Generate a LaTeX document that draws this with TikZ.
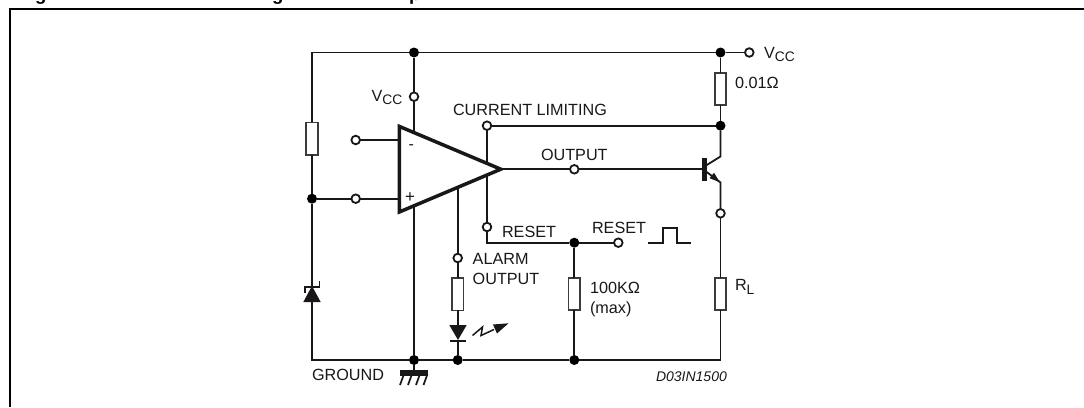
\documentclass[tikz,border=0pt]{standalone}
\usepackage{fontspec}
\setmainfont{Liberation Sans}
\usetikzlibrary{shapes.geometric,calc}
\definecolor{ink}{HTML}{1A1718}
\newcommand{\lblfont}{\fontsize{16.2}{19}\selectfont}
\newcommand{\subtxt}[1]{\raisebox{-3.6pt}{\fontsize{13.8}{14}\selectfont #1}}
\tikzset{
  wire/.style={draw=ink,line width=1.8pt},
  term/.style={circle,draw=ink,fill=white,line width=1.8pt,minimum size=8.6pt,inner sep=0pt,outer sep=0pt},
  jn/.style={circle,fill=black,minimum size=10pt,inner sep=0pt,outer sep=0pt},
  resv/.style={rectangle,draw=ink!85,fill=white,line width=1.7pt,minimum width=11.5pt,minimum height=32.5pt,inner sep=0pt,outer sep=0pt},
  lbl/.style={anchor=base west,inner sep=0pt,outer sep=0pt,text=ink,font=\lblfont},
  amp/.style={isosceles triangle,isosceles triangle stretches,minimum width=85.6pt,minimum height=101.5pt,inner sep=0pt,outer sep=0pt,anchor=lower side,draw=ink,fill=white,line width=3.5pt,line join=miter},
}
\begin{document}
\begin{tikzpicture}[x=1pt,y=-1pt]
\useasboundingbox (0,0) rectangle (1084,407);
% frame and cut-off title
\coordinate (frameBL) at (10,407);
\coordinate (frameTL) at (10,9.2);
\coordinate (frameTR) at (1084,9.2);
\draw[black,line width=2.2pt,line cap=butt] (frameBL) -- (frameTL) -- (frameTR);
\node[anchor=base west,inner sep=0pt,font=\fontsize{18.5}{20}\bfseries] (t1) at (35,0) {g};
\node[anchor=base west,inner sep=0pt,font=\fontsize{18.5}{20}\bfseries] (t2) at (272,0) {g};
\node[anchor=base west,inner sep=0pt,font=\fontsize{18.5}{20}\bfseries] (t3) at (409,0) {p};
% corners and hidden ends
\coordinate (cTL) at (312,52.5);
\coordinate (cBL) at (312,360);
\coordinate (cBR) at (720.5,360);
\coordinate (ampVcc) at (414,140);
\coordinate (ampGnd) at (414,200);
\coordinate (ampMinus) at (405,140);
\coordinate (ampPlus) at (405,198.7);
\coordinate (ampOut) at (490,169.3);
\coordinate (ampAlarm) at (457.7,180);
\coordinate (rstCorner) at (487,242.7);
\coordinate (cColl) at (720.5,156.5);
\coordinate (cEmit) at (720.5,182.5);
\coordinate (bColl) at (706,165.5);
\coordinate (bEmit) at (706,171.5);
% junctions
\node[jn] (jTop) at (414,52.5) {};
\node[jn] (jTopR) at (720.5,52.5) {};
\node[jn] (jCL) at (720.5,125.7) {};
\node[jn] (jPlus) at (312,198.7) {};
\node[jn] (jRst) at (574.3,242.7) {};
\node[jn] (jGnd) at (414,360) {};
\node[jn] (jLed) at (457.7,360) {};
\node[jn] (jRes) at (574.3,360) {};
% terminals
\node[term] (tVccR) at (749.3,52.5) {};
\node[term] (tVccL) at (414,96.7) {};
\node[term] (tCL) at (487,125.7) {};
\node[term] (tMinus) at (355.7,140) {};
\node[term] (tPlus) at (355.7,198.7) {};
\node[term] (tOut) at (574.3,169.3) {};
\node[term] (tEmit) at (720.5,213.3) {};
\node[term] (tRst) at (487,227) {};
\node[term] (tRstR) at (618.3,242.7) {};
\node[term] (tAlarm) at (457.7,258) {};
% resistors
\node[resv] (rDiv) at (312,138.7) {};
\node[resv] (rSense) at (720.5,89) {};
\node[resv] (rAlarm) at (457.7,294.2) {};
\node[resv] (rRst) at (574.3,294) {};
\node[resv] (rLoad) at (720.5,294) {};
% LED and Zener anchors
\coordinate (ledTop) at (457.7,325);
\coordinate (ledBot) at (457.7,340.7);
\coordinate (zenTop) at (312,286.7);
\coordinate (zenBot) at (312,302);
% wires
\draw[wire,line join=miter] (jTop) -- (cTL) -- (rDiv);
\draw[wire] (jTop) -- (jTopR);
\draw[wire] (jTopR) -- (tVccR);
\draw[wire] (jTop) -- (tVccL);
\draw[wire] (tVccL) -- (ampVcc);
\draw[wire] (rDiv) -- (jPlus);
\draw[wire] (jPlus) -- (tPlus);
\draw[wire] (tPlus) -- (ampPlus);
\draw[wire] (tMinus) -- (ampMinus);
\draw[wire] (jPlus) -- (zenTop);
\draw[wire,line join=miter] (zenBot) -- (cBL) -- (jGnd);
\draw[wire] (jGnd) -- (jLed);
\draw[wire] (jLed) -- (jRes);
\draw[wire,line join=miter] (jRes) -- (cBR) -- (rLoad);
\draw[wire] (ampGnd) -- (jGnd);
\draw[wire] (tCL) -- (jCL);
\draw[wire] (tCL) -- (tRst);
\draw[wire,line join=miter] (tRst) -- (rstCorner) -- (jRst);
\draw[wire] (jRst) -- (tRstR);
\draw[wire] (jRst) -- (rRst);
\draw[wire] (rRst) -- (jRes);
\draw[wire] (ampOut) -- (tOut);
\draw[wire] (tOut) -- (bColl |- tOut);
\draw[wire] (jTopR) -- (rSense);
\draw[wire] (rSense) -- (jCL);
\draw[wire,line join=miter] (jCL) -- (cColl) -- (bColl);
\draw[wire,line join=miter] (bEmit) -- (cEmit) -- (tEmit);
\draw[wire] (tEmit) -- (rLoad);
\draw[wire] (ampAlarm) -- (tAlarm);
\draw[wire] (tAlarm) -- (rAlarm);
\draw[wire] (rAlarm) -- (ledTop);
\draw[wire] (ledBot) -- (jLed);
% op-amp
\node[amp] (opamp) at (399.3,169.2) {};
% transistor
\fill[ink] (701.7,158.3) rectangle (707.3,180.7);
\fill[ink] (719.8,182.2) -- (709.5,178.2) -- (714,172.8) -- cycle;
% LED
\fill[ink] (449.3,325) -- (466.7,325) -- (458,340) -- cycle;
\draw[ink,line width=1.8pt] (450,340.7) -- (466,340.7);
\draw[ink,line width=1.5pt,line join=miter] (472.5,335.5) -- (482.5,327) -- (481,335.5) -- (494,329.5);
\fill[ink] (508.5,323.3) -- (493,324.5) -- (497,333.5) -- cycle;
% Zener
\fill[ink] (303.3,302) -- (320.7,302) -- (312,286) -- cycle;
\draw[ink,line width=1.7pt,line join=miter] (304.8,293) -- (304.8,286.9) -- (319.4,286.9) -- (319.4,280.5);
% ground
\coordinate (gndTop) at (414,370);
\draw[wire] (jGnd) -- (gndTop);
\fill[ink] (400,369.5) rectangle (428.3,375.5);
\foreach \xx in {400,408,416,423.5}{\draw[ink,line width=1.7pt] (\xx,385) -- (\xx+4,374);}
% pulse
\draw[ink,line width=1.6pt,line join=miter] (647.7,242.7) -- (662.7,242.7) -- (662.7,228) -- (677,228) -- (677,242.7) -- (691,242.7);
% labels
\node[lbl] (lVccL) at (371.5,101) {V\subtxt{CC}};
\node[lbl] (lVccR) at (764,58) {V\subtxt{CC}};
\node[lbl] (lCL) at (453,115) {CURRENT LIMITING};
\node[lbl] (l001) at (735,88.3) {0.01\char"03A9};
\node[lbl] (lOut) at (541,160.7) {OUTPUT};
\node[lbl] (lRst) at (502,237) {RESET};
\node[lbl] (lRstR) at (592,233.3) {RESET};
\node[lbl] (lAl) at (472.7,264) {ALARM};
\node[lbl] (lAlO) at (472.7,284) {OUTPUT};
\node[lbl] (l100) at (590,293) {100K\char"03A9};
\node[lbl] (lmax) at (590,313.5) {(max)};
\node[lbl] (lRL) at (735,290.5) {R\subtxt{L}};
\node[lbl] (lGnd) at (312,380.7) {GROUND};
\node[lbl,font=\fontsize{14}{15}\itshape] (lRef) at (656,381) {D03IN1500};
\node[lbl,font=\fontsize{16}{16}\selectfont] (lM) at (408.5,149) {-};
\node[lbl,font=\fontsize{17}{17}\selectfont] (lP) at (405,202.5) {+};
\end{tikzpicture}
\end{document}
